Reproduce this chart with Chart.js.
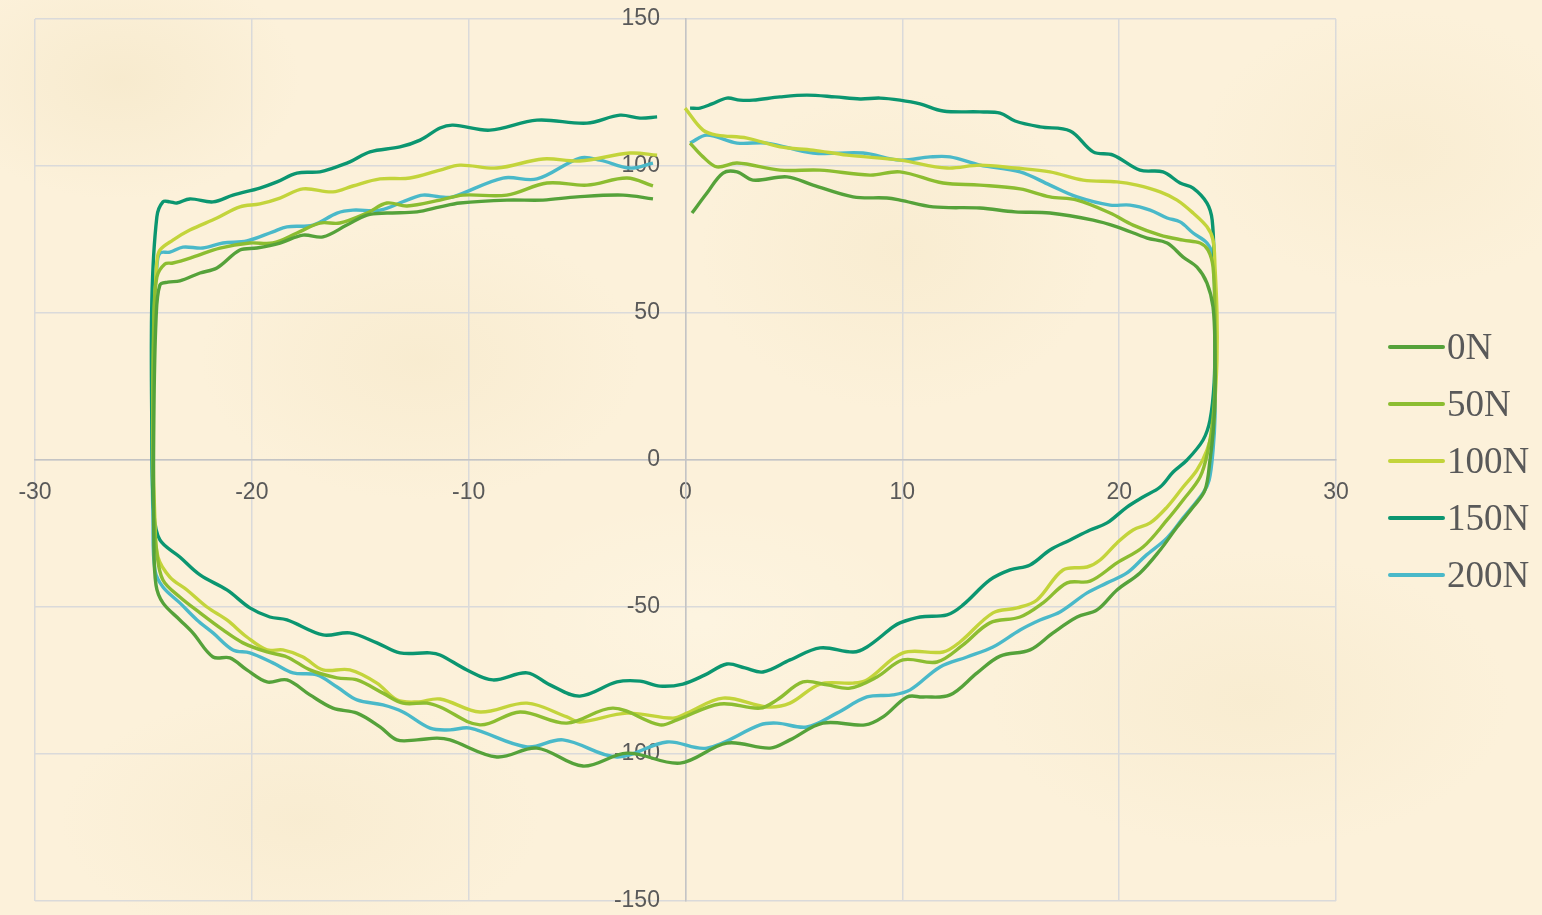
<!DOCTYPE html>
<html>
<head>
<meta charset="utf-8">
<script src="https://cdn.jsdelivr.net/npm/chart.js@4/dist/chart.umd.min.js"></script>
<style>
  html, body { margin:0; padding:0; }
  body {
    width:1542px; height:915px; overflow:hidden;
    background-color:#fcf1da;
    background-image:
      radial-gradient(ellipse 180px 120px at 120px 80px, rgba(236,220,180,.3), transparent),
      radial-gradient(ellipse 220px 140px at 420px 360px, rgba(240,224,186,.3), transparent),
      radial-gradient(ellipse 200px 160px at 900px 250px, rgba(238,222,182,.25), transparent),
      radial-gradient(ellipse 260px 150px at 1250px 700px, rgba(240,225,188,.3), transparent),
      radial-gradient(ellipse 240px 130px at 300px 820px, rgba(238,222,184,.25), transparent),
      radial-gradient(ellipse 200px 140px at 1400px 150px, rgba(240,224,186,.25), transparent),
      radial-gradient(ellipse 220px 120px at 700px 620px, rgba(255,250,236,.35), transparent);
  }
  #wrap { position:absolute; left:0; top:0; width:1542px; height:915px; }
</style>
</head>
<body>
<div id="wrap"><canvas id="c" width="1542" height="915"></canvas></div>
<script>
// displacement (mm) vs force, one loop per load
const labels = ['0N', '50N', '100N', '150N', '200N'];
const colors = ['#55a23a', '#8cbd31', '#c3d43b', '#0b9670', '#4ab9c9'];
const xTicks = [-30, -20, -10, 0, 10, 20, 30];
const yTicks = [-150, -100, -50, 0, 50, 100, 150];

const n0 = [
  [0.30,84.0],[0.99,90.8],[1.73,97.6],[2.38,98.0],[3.11,95.2],[4.68,96.3],[5.88,93.5],[7.73,89.5],[9.29,89.1],[9.89,88.4],
  [11.42,86.1],[13.58,85.7],[15.20,84.4],[16.81,84.0],[18.80,81.6],[19.90,79.3],[21.29,75.5],[22.21,73.8],[22.95,69.0],
  [23.59,65.6],[24.05,60.2],[24.33,52.0],[24.42,37.4],[24.42,20.4],[24.33,9.2],[24.19,0],[23.96,-10.2],[23.41,-16.0],
  [22.67,-22.8],[21.89,-30.6],[20.96,-38.4],[19.90,-44.2],[18.98,-51.0],[18.06,-53.4],[16.95,-58.8],[15.89,-64.6],
  [14.51,-66.7],[13.45,-72.4],[12.20,-79.9],[10.96,-80.6],[10.22,-80.6],[9.11,-87.4],[8.28,-90.1],[6.34,-89.5],
  [4.82,-95.2],[3.90,-98.0],[1.91,-96.3],[-0.25,-103.1],[-2.70,-99.7],[-4.73,-104.1],[-6.85,-98.0],[-8.70,-101.0],
  [-10.86,-95.2],[-11.46,-94.6],[-12.38,-95.2],[-13.31,-95.2],[-14.09,-90.8],[-15.15,-86.1],[-16.26,-84.4],
  [-17.32,-79.9],[-18.38,-74.8],[-19.30,-75.5],[-20.23,-71.4],[-21.01,-67.3],[-21.79,-67.0],[-22.72,-58.8],
  [-23.32,-54.4],[-24.10,-48.6],[-24.42,-42.5],[-24.52,-27.2],[-24.52,13.6],[-24.42,47.6],[-24.24,59.5],
  [-23.87,60.5],[-23.32,60.9],[-22.39,63.6],[-21.61,65.3],[-20.55,71.4],[-19.77,72.1],[-18.70,73.8],[-17.64,76.5],
  [-16.72,75.9],[-15.62,79.9],[-14.69,83.3],[-13.77,84.0],[-12.38,84.4],[-11.32,86.1],[-10.40,87.4],[-8.24,88.4],
  [-6.57,88.4],[-5.00,89.5],[-2.88,90.1],[-1.50,88.8]
];

const n50 = [
  [0.21,107.8],[0.81,103.1],[1.45,99.7],[2.38,101.0],[4.36,98.6],[6.20,98.6],[8.51,96.9],[9.89,98.0],[11.88,94.2],
  [13.58,93.5],[15.43,92.2],[16.81,89.5],[18.06,88.4],[19.58,84.0],[20.64,79.9],[21.89,76.5],[22.95,74.8],[23.73,73.8],
  [24.10,71.4],[24.33,65.6],[24.42,48.6],[24.42,26.2],[24.33,14.6],[24.10,3.4],[23.73,-5.8],[22.95,-13.6],[22.21,-20.4],
  [21.10,-29.6],[19.90,-35.0],[18.66,-41.2],[17.60,-41.8],[16.49,-48.6],[15.43,-53.4],[14.04,-55.4],[12.80,-62.9],
  [11.60,-68.7],[10.03,-68.0],[8.83,-73.8],[7.59,-77.6],[6.53,-76.5],[5.42,-75.5],[4.22,-81.6],[3.44,-84.4],[1.59,-83.0],
  [-0.39,-88.4],[-1.18,-90.1],[-3.34,-84.4],[-5.47,-89.5],[-7.63,-85.7],[-9.48,-90.1],[-11.32,-84.0],[-11.92,-82.7],
  [-13.03,-82.7],[-13.95,-79.3],[-15.15,-74.8],[-16.07,-74.1],[-17.32,-71.4],[-18.38,-67.0],[-19.30,-65.3],
  [-20.41,-62.2],[-21.33,-57.8],[-22.39,-52.0],[-23.32,-46.6],[-24.10,-40.8],[-24.38,-31.6],[-24.52,-17.0],
  [-24.56,13.6],[-24.52,47.6],[-24.38,62.2],[-24.01,66.7],[-23.64,67.0],[-22.72,69.0],[-21.47,72.1],[-20.09,73.8],
  [-19.03,73.8],[-17.92,77.2],[-16.86,80.6],[-15.94,80.6],[-14.69,84.0],[-13.77,87.4],[-12.84,86.4],[-11.32,88.4],
  [-10.26,90.1],[-8.24,90.1],[-6.39,94.2],[-4.54,93.5],[-2.70,95.9],[-1.50,93.2]
];

const n100 = [
  [-0.02,119.7],[0.81,112.2],[1.45,110.5],[2.84,109.5],[4.36,106.5],[5.88,105.4],[7.45,103.7],[9.89,102.0],[12.06,99.3],
  [13.58,100.3],[15.20,99.3],[16.81,98.0],[18.34,95.2],[19.90,94.6],[20.82,93.5],[21.89,91.2],[22.67,88.4],[23.41,84.0],
  [24.05,79.3],[24.33,74.8],[24.42,65.6],[24.51,50.0],[24.51,34.0],[24.42,20.4],[24.33,11.2],[24.05,3.4],[23.59,-3.4],
  [22.95,-9.2],[22.21,-16.0],[21.43,-21.4],[20.64,-23.8],[19.90,-28.2],[19.12,-34.0],[18.52,-36.4],[17.41,-37.4],
  [16.21,-47.6],[15.29,-50.3],[14.18,-52.0],[12.66,-61.9],[11.88,-65.3],[10.03,-65.6],[8.37,-74.8],[7.73,-75.9],
  [6.21,-76.2],[4.82,-82.7],[3.76,-84.0],[1.73,-81.0],[0.07,-86.1],[-0.58,-87.8],[-2.70,-86.1],[-4.87,-89.1],
  [-5.47,-87.4],[-7.31,-82.7],[-9.48,-85.7],[-11.32,-81.3],[-12.38,-82.3],[-13.31,-81.6],[-14.23,-75.9],
  [-15.48,-71.4],[-16.72,-71.4],[-17.64,-67.0],[-18.57,-64.6],[-19.30,-64.6],[-20.23,-60.2],[-21.15,-54.4],
  [-22.07,-50.0],[-22.99,-44.2],[-23.78,-39.8],[-24.33,-33.0],[-24.47,-20.4],[-24.56,6.8],[-24.52,44.2],
  [-24.38,67.3],[-24.24,71.4],[-23.64,74.8],[-22.86,78.2],[-21.61,82.3],[-20.55,86.1],[-19.63,87.1],[-18.70,89.1],
  [-17.64,92.2],[-16.26,91.2],[-15.34,93.2],[-14.09,95.6],[-12.71,95.9],[-11.32,98.6],[-10.40,100.3],[-8.70,99.3],
  [-6.57,102.4],[-4.87,101.7],[-2.56,104.4],[-1.31,103.7]
];

const n150 = [
  [0.21,119.7],[0.67,119.7],[1.22,121.1],[1.91,123.1],[2.51,122.4],[3.11,122.4],[4.36,123.5],[5.60,124.1],[6.90,123.5],
  [8.05,122.8],[8.97,123.1],[9.89,122.4],[10.82,121.1],[11.88,118.7],[13.58,118.4],[14.51,118.0],[15.20,115.3],
  [16.35,113.3],[17.74,111.9],[18.80,104.8],[19.72,103.7],[20.96,98.6],[22.02,98.0],[22.81,94.2],[23.41,92.5],
  [24.05,87.4],[24.29,81.6],[24.38,65.6],[24.42,43.2],[24.38,26.2],[24.19,13.6],[23.87,6.8],[23.13,0],[22.49,-4.1],
  [21.89,-9.2],[21.10,-12.6],[20.36,-16.0],[19.44,-21.4],[18.66,-23.8],[17.74,-27.2],[16.81,-30.6],[15.89,-35.7],
  [14.97,-37.4],[14.04,-40.8],[12.80,-49.3],[12.06,-52.7],[10.82,-53.4],[9.89,-55.4],[9.57,-56.8],[8.37,-63.6],
  [7.73,-65.3],[6.21,-63.9],[4.82,-68.0],[3.57,-72.1],[2.74,-70.7],[1.91,-69.4],[0.90,-73.1],[-0.12,-76.2],
  [-1.18,-76.9],[-2.10,-75.2],[-3.16,-75.5],[-4.87,-80.3],[-6.25,-76.5],[-7.31,-72.4],[-8.88,-74.8],[-10.08,-71.4],
  [-11.32,-66.3],[-11.79,-65.6],[-13.17,-65.6],[-14.23,-62.2],[-15.48,-58.8],[-16.72,-59.5],[-18.38,-54.4],
  [-19.17,-53.4],[-20.09,-50.3],[-21.15,-44.2],[-22.39,-39.1],[-23.32,-33.0],[-24.24,-27.2],[-24.52,-18.0],
  [-24.61,10.2],[-24.61,54.4],[-24.38,82.7],[-24.10,87.8],[-23.78,87.8],[-23.46,87.4],[-22.86,88.8],[-21.79,87.8],
  [-20.87,90.1],[-19.63,92.5],[-18.84,94.6],[-17.92,97.6],[-16.86,98.0],[-16.26,99.3],[-15.48,101.4],[-14.55,104.8],
  [-13.17,106.5],[-12.24,108.8],[-11.32,112.9],[-10.72,113.9],[-9.02,112.2],[-6.85,115.6],[-4.54,114.6],[-3.02,117.3],
  [-2.10,116.3],[-1.31,116.7]
];

const n200 = [
  [0.21,107.8],[0.99,110.5],[2.38,107.8],[3.76,107.8],[5.88,104.4],[8.19,104.4],[9.89,102.0],[11.28,103.1],[12.20,103.1],
  [13.58,100.3],[15.43,98.0],[16.81,93.5],[18.06,89.5],[19.58,86.7],[20.50,86.7],[21.43,85.0],[22.21,82.3],[22.81,81.0],
  [23.41,77.2],[24.05,73.8],[24.33,69.0],[24.42,54.4],[24.42,31.6],[24.42,14.6],[24.33,3.4],[24.15,-6.8],[23.87,-11.2],
  [22.95,-19.7],[22.21,-26.5],[21.20,-32.7],[20.36,-38.4],[19.44,-41.8],[18.52,-45.2],[17.27,-51.7],[16.35,-54.4],
  [15.43,-57.8],[14.18,-63.6],[12.98,-67.0],[11.74,-70.4],[10.36,-78.2],[9.57,-79.9],[8.37,-80.6],[6.98,-86.1],
  [5.60,-90.8],[4.22,-89.5],[3.44,-90.1],[0.99,-98.0],[-0.85,-95.9],[-3.16,-101.0],[-5.65,-95.2],[-7.31,-97.6],
  [-9.94,-91.2],[-10.86,-91.8],[-11.78,-91.2],[-13.03,-85.7],[-13.95,-83.3],[-15.15,-81.6],[-16.07,-77.2],
  [-17.00,-73.1],[-18.10,-72.4],[-19.03,-69.0],[-20.09,-65.6],[-20.87,-64.6],[-21.79,-58.8],[-22.53,-54.4],
  [-23.32,-48.6],[-24.10,-43.2],[-24.47,-37.4],[-24.56,-20.4],[-24.61,13.6],[-24.56,47.6],[-24.38,65.6],
  [-24.24,70.4],[-23.78,70.7],[-23.18,72.4],[-22.26,72.1],[-21.33,73.8],[-20.23,74.5],[-19.03,77.6],[-18.38,79.3],
  [-17.18,79.9],[-16.07,84.0],[-15.34,85.0],[-14.09,85.0],[-12.84,88.4],[-12.11,90.1],[-11.32,89.5],[-10.72,89.5],
  [-8.42,95.9],[-6.85,95.6],[-4.87,102.7],[-3.94,102.0],[-2.56,99.3],[-1.50,101.0]
];

const series = [n0, n50, n100, n150, n200];

const TICK = '#595959';
const GRID = '#dadada';
const AXIS = '#c4c4c4';
const TICKFONT = { family: "'Liberation Sans', Arial, sans-serif", size: 23 };

// draws the legend at right (line sample + serif label)
const sideLegend = {
  id: 'sideLegend',
  afterDraw(chart) {
    const { ctx, chartArea } = chart;
    const mid = (chartArea.top + chartArea.bottom) / 2;
    const x0 = chartArea.right + 54;
    ctx.save();
    ctx.font = "37px 'Liberation Serif', 'Times New Roman', serif";
    ctx.textBaseline = 'middle';
    chart.data.datasets.forEach((ds, i) => {
      const y = mid + 1 + (i - 2) * 57;
      ctx.strokeStyle = ds.borderColor;
      ctx.lineWidth = 4;
      ctx.lineCap = 'round';
      ctx.beginPath();
      ctx.moveTo(x0, y);
      ctx.lineTo(x0 + 53, y);
      ctx.stroke();
      ctx.fillStyle = TICK;
      ctx.fillText(ds.label, x0 + 57, y + 2);
    });
    ctx.restore();
  }
};

const noPad = s => { s.paddingLeft = 0; s.paddingRight = 0; s.paddingTop = 0; s.paddingBottom = 0; };

new Chart(document.getElementById('c').getContext('2d'), {
  type: 'scatter',
  data: {
    datasets: series.map((pts, i) => ({
      label: labels[i],
      data: pts.map(p => ({ x: p[0], y: p[1] })),
      showLine: true,
      borderColor: colors[i],
      backgroundColor: colors[i],
      borderWidth: 3.4,
      pointRadius: 0,
      tension: 0.35,
      fill: false,
    })),
  },
  options: {
    responsive: false,
    animation: false,
    layout: { padding: { left: 35, right: 206, top: 19, bottom: 14 } },
    plugins: { legend: { display: false }, tooltip: { enabled: false } },
    scales: {
      x: {
        type: 'linear', position: { y: 0 }, min: -30, max: 30,
        afterBuildTicks: s => { s.ticks = xTicks.map(v => ({ value: v })); },
        afterFit: noPad,
        grid: { color: GRID, lineWidth: 1.5, drawTicks: false },
        border: { display: true, color: AXIS, width: 1.5 },
        ticks: { color: TICK, font: TICKFONT, padding: 19, maxRotation: 0 },
      },
      y: {
        type: 'linear', position: { x: 0 }, min: -150, max: 150,
        afterBuildTicks: s => { s.ticks = yTicks.map(v => ({ value: v })); },
        afterFit: noPad,
        grid: { color: GRID, lineWidth: 1.5, drawTicks: false },
        border: { display: true, color: AXIS, width: 1.5 },
        // centred axis ignores tick padding, so pad the label text itself
        ticks: { color: TICK, font: TICKFONT, callback: v => v + '    ' },
      },
    },
  },
  plugins: [sideLegend],
});
</script>
</body>
</html>
